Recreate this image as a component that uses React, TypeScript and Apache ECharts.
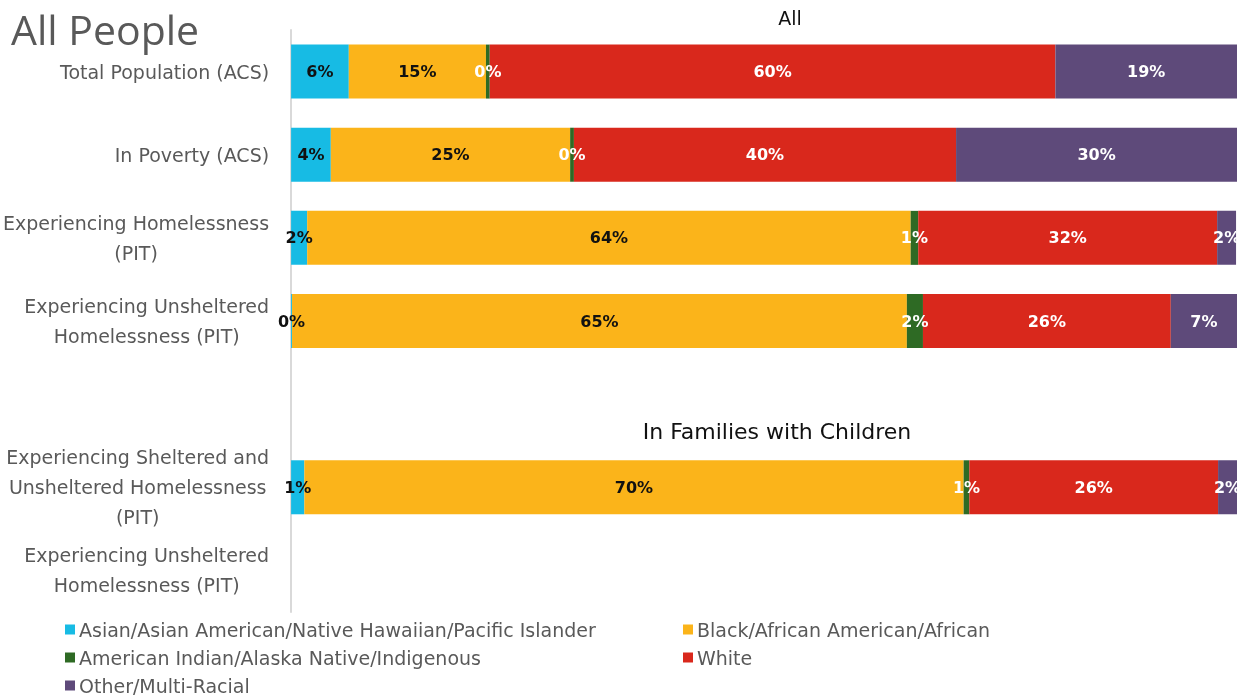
import React, { useEffect, useRef } from "react";
import * as echarts from "echarts";

const categories = [
  "Total Population (ACS)",
  "In Poverty (ACS)",
  "Experiencing Homelessness\n(PIT)",
  "Experiencing Unsheltered\nHomelessness (PIT)",
  "",
  "Experiencing Sheltered and\nUnsheltered Homelessness\n(PIT)",
  "Experiencing Unsheltered\nHomelessness (PIT)",
];

const seriesNames = [
  "Asian/Asian American/Native Hawaiian/Pacific Islander",
  "Black/African American/African",
  "American Indian/Alaska Native/Indigenous",
  "White",
  "Other/Multi-Racial",
];

const asian: (number | string)[] = [6.1, 4.2, 1.7, 0.1, "-", 1.4, "-"];
const black: (number | string)[] = [14.5, 25.3, 63.8, 65.0, "-", 69.7, "-"];
const aian: (number | string)[] = [0.4, 0.4, 0.8, 1.7, "-", 0.6, "-"];
const white: (number | string)[] = [59.8, 40.4, 31.6, 26.2, "-", 26.3, "-"];
const other: (number | string)[] = [19.2, 29.7, 2.0, 7.0, "-", 2.0, "-"];

const colors = ["#17BBE4", "#FBB41A", "#2E6A24", "#D9281C", "#5E4A7A"];
const labelColors = ["#111111", "#111111", "#ffffff", "#ffffff", "#ffffff"];

const FONT = "'Open Sans', 'Noto Sans', sans-serif";
const WIDE = "'DejaVu Sans', sans-serif";

export default function App() {
  const ref = useRef<HTMLDivElement>(null);
  useEffect(() => {
    if (!ref.current) return;
    const chart = echarts.init(ref.current, undefined, { renderer: "svg" });
    const values = [asian, black, aian, white, other];
    const legendBase = {
      top: 620,
      orient: "vertical",
      itemWidth: 10,
      itemHeight: 10,
      itemGap: 9,
      icon: "rect",
      padding: 0,
      textStyle: { fontSize: 19, color: "#595959", fontFamily: WIDE, padding: [0, 0, 0, -1] },
      selectedMode: false,
    };
    const option: any = {
      animation: false,
      textStyle: { fontFamily: FONT },
      title: [
        {
          text: "All People",
          left: 11,
          top: 7,
          padding: 0,
          textStyle: { fontSize: 41, lineHeight: 44, fontWeight: "normal", color: "#595959", fontFamily: FONT },
        },
        {
          text: "All",
          left: 790,
          top: 8,
          padding: 0,
          textAlign: "center",
          textStyle: { fontSize: 19, fontWeight: "normal", color: "#111", fontFamily: WIDE },
        },
        {
          text: "In Families with Children",
          left: 777,
          top: 420,
          padding: 0,
          textAlign: "center",
          textStyle: { fontSize: 22, fontWeight: "normal", color: "#111", fontFamily: WIDE },
        },
      ],
      legend: [
        { ...legendBase, left: 65, data: [seriesNames[0], seriesNames[2], seriesNames[4]] },
        { ...legendBase, left: 683, data: [seriesNames[1], seriesNames[3]] },
      ],
      grid: { left: 291, right: 6, top: 30, bottom: 86, containLabel: false },
      xAxis: { type: "value", min: 0, max: 100, show: false },
      yAxis: {
        type: "category",
        inverse: true,
        data: categories,
        axisLine: { show: true, lineStyle: { color: "#d9d9d9", width: 2 } },
        axisTick: { show: false },
        axisLabel: {
          margin: 22,
          color: "#595959",
          fontSize: 19,
          fontFamily: WIDE,
          lineHeight: 30,
          formatter: (v: string) =>
            v
              .split("\n")
              .map((l) => "{c|" + l + "}")
              .join("\n"),
          rich: {
            c: { align: "center", fontSize: 19, color: "#595959", lineHeight: 30, fontFamily: WIDE },
          },
        },
      },
      series: seriesNames.map((name, i) => ({
        name,
        type: "bar",
        stack: "total",
        barWidth: 54,
        itemStyle: { color: colors[i] },
        label: {
          show: true,
          position: "inside",
          color: labelColors[i],
          fontWeight: "bold",
          fontSize: 16,
          fontFamily: WIDE,
          formatter: (p: any) => Math.round(p.value) + "%",
        },
        data: values[i],
      })),
    };
    chart.setOption(option);
    return () => chart.dispose();
  }, []);
  return (
    <div
      ref={ref}
      style={{ position: "fixed", left: 0, top: 0, width: 1243, height: 698 }}
    />
  );
}
